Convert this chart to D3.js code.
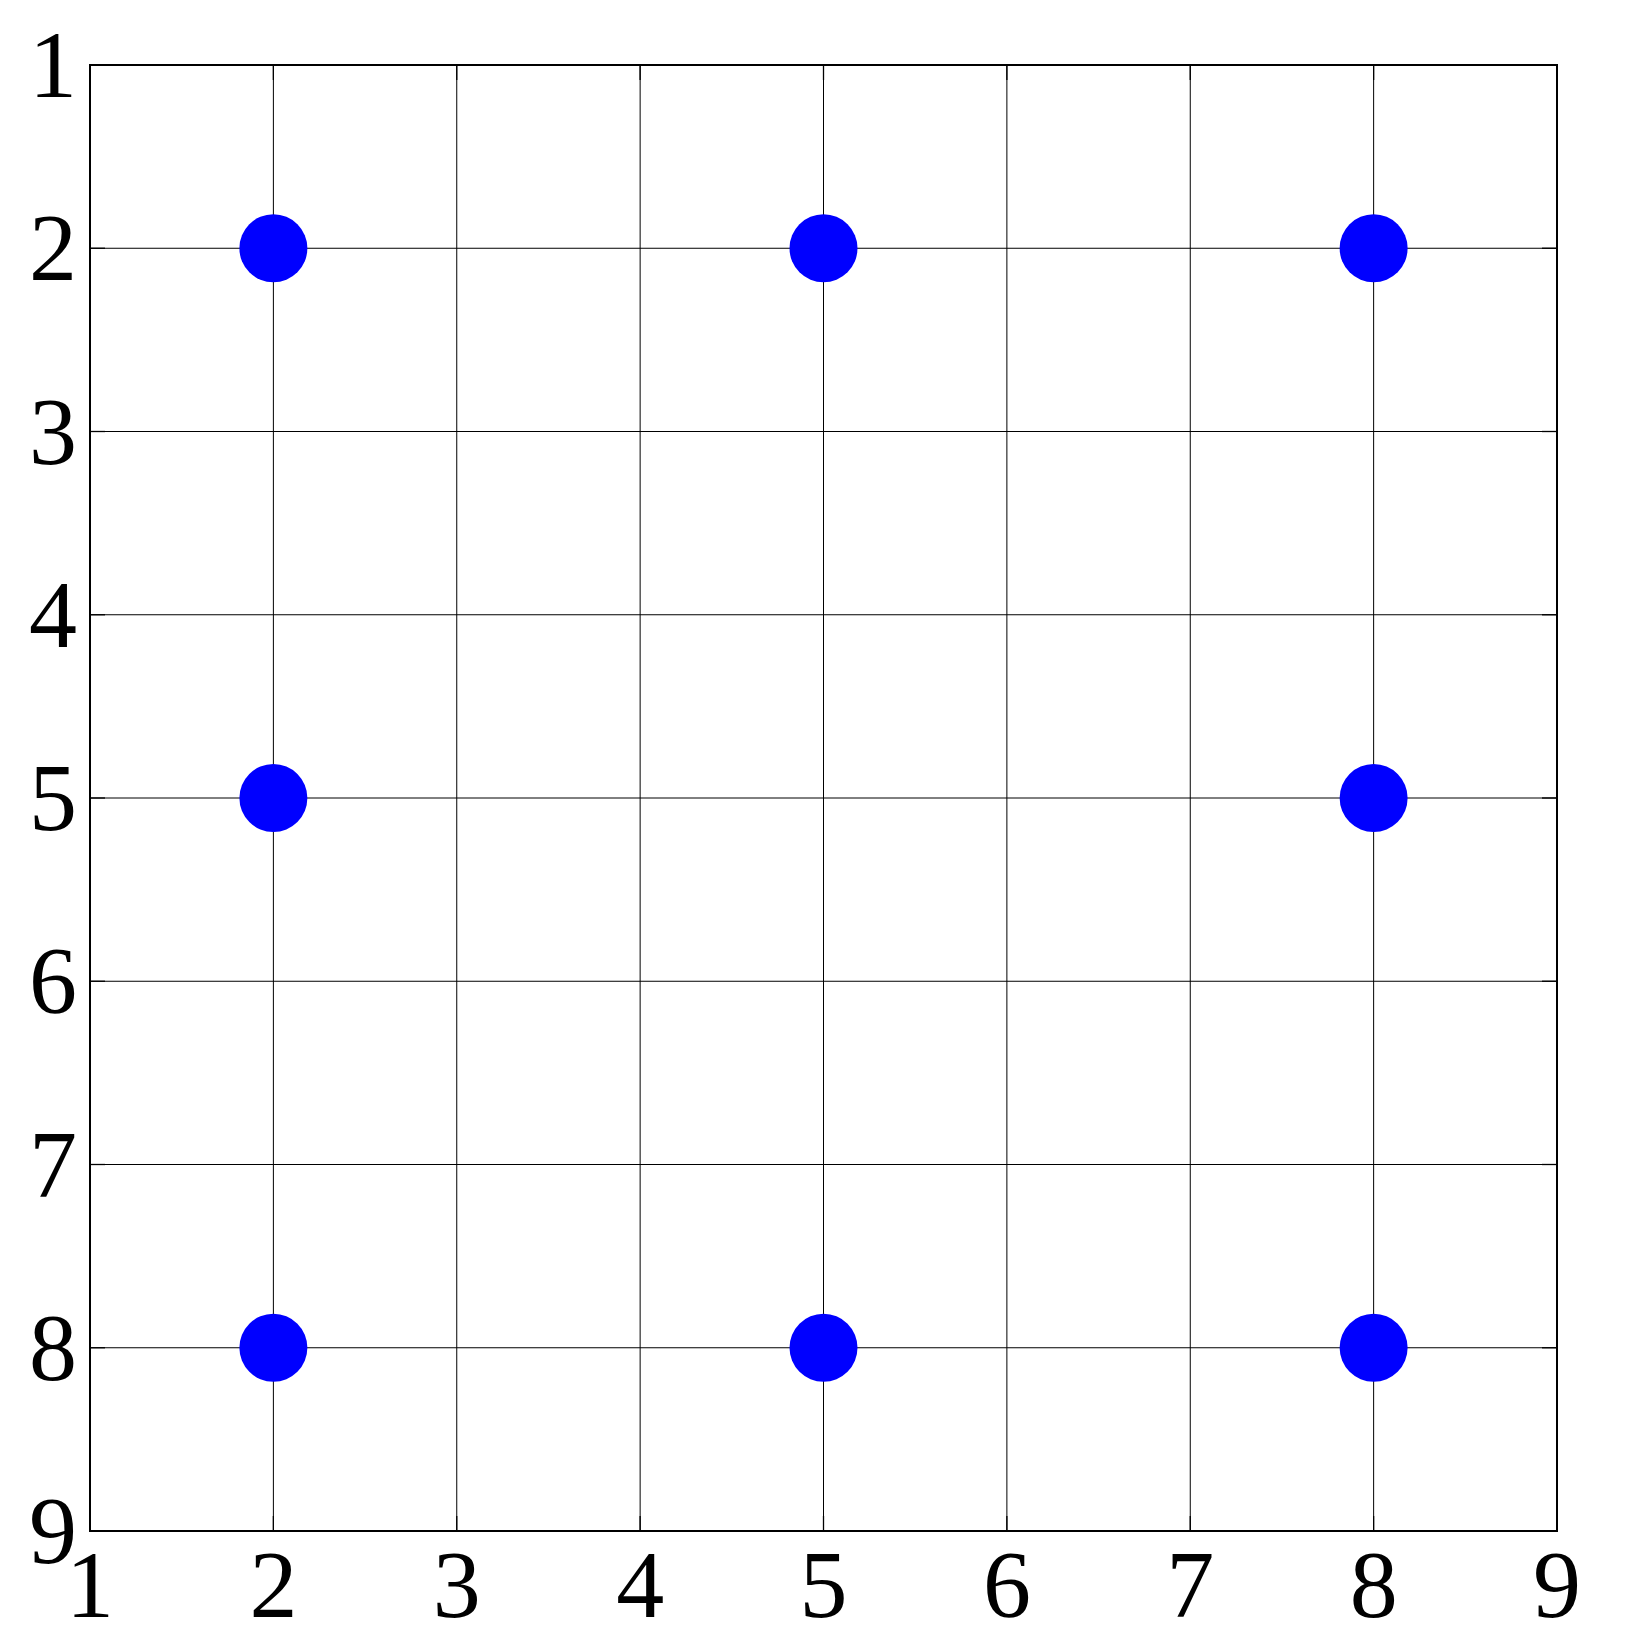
<!DOCTYPE html>
<html><head><meta charset="utf-8">
<script src="https://cdn.jsdelivr.net/npm/d3@7"></script>
<style>html,body{margin:0;padding:0;background:#fff;}</style>
</head><body>
<svg id="chart" width="1646" height="1638"></svg>
<script>
const xTicks = [1,2,3,4,5,6,7,8,9];
const yTicks = [1,2,3,4,5,6,7,8,9];
const pointsX = [2,5,8,2,8,2,5,8];
const pointsY = [2,2,2,5,5,8,8,8];

const svg = d3.select("#chart");
const L = 90, R = 1557, T = 65, B = 1531;
const x = d3.scaleLinear().domain([1,9]).range([L,R]);
const y = d3.scaleLinear().domain([1,9]).range([T,B]);
const font = "'Liberation Serif', 'DejaVu Serif', serif";

const g = svg.append("g");
// grid
g.selectAll("line.vx").data(xTicks.slice(1,-1)).join("line")
  .attr("x1", d=>x(d)).attr("x2", d=>x(d)).attr("y1", T).attr("y2", B)
  .attr("stroke","#000").attr("stroke-width",1);
g.selectAll("line.hy").data(yTicks.slice(1,-1)).join("line")
  .attr("y1", d=>y(d)).attr("y2", d=>y(d)).attr("x1", L).attr("x2", R)
  .attr("stroke","#000").attr("stroke-width",1);
// inner ticks
g.selectAll("line.tl").data(yTicks).join("line")
  .attr("y1", d=>y(d)).attr("y2", d=>y(d)).attr("x1", L).attr("x2", L+15)
  .attr("stroke","#000").attr("stroke-width",1.3);
g.selectAll("line.tr").data(yTicks).join("line")
  .attr("y1", d=>y(d)).attr("y2", d=>y(d)).attr("x1", R-15).attr("x2", R)
  .attr("stroke","#000").attr("stroke-width",1.3);
g.selectAll("line.tb").data(xTicks).join("line")
  .attr("x1", d=>x(d)).attr("x2", d=>x(d)).attr("y1", B).attr("y2", B-15)
  .attr("stroke","#000").attr("stroke-width",1.3);
g.selectAll("line.tt").data(xTicks).join("line")
  .attr("x1", d=>x(d)).attr("x2", d=>x(d)).attr("y1", T).attr("y2", T+15)
  .attr("stroke","#000").attr("stroke-width",1.3);

// frame
g.append("rect").attr("x",L).attr("y",T).attr("width",R-L).attr("height",B-T)
  .attr("fill","none").attr("stroke","#000").attr("stroke-width",2);

// points
g.selectAll("circle").data(pointsX.map((d,i)=>[d,pointsY[i]])).join("circle")
  .attr("cx", d=>x(d[0])).attr("cy", d=>y(d[1])).attr("r",34)
  .attr("fill","#0000ff");

// labels
svg.selectAll("text.yl").data(yTicks).join("text")
  .attr("x", 77).attr("y", d=>y(d)+32)
  .attr("text-anchor","end")
  .attr("font-family",font).attr("font-size",96)
  .text(d=>d);
svg.selectAll("text.xl").data(xTicks).join("text")
  .attr("x", d=>x(d)).attr("y", 1617)
  .attr("text-anchor","middle")
  .attr("font-family",font).attr("font-size",96)
  .text(d=>d);
</script>
</body></html>
